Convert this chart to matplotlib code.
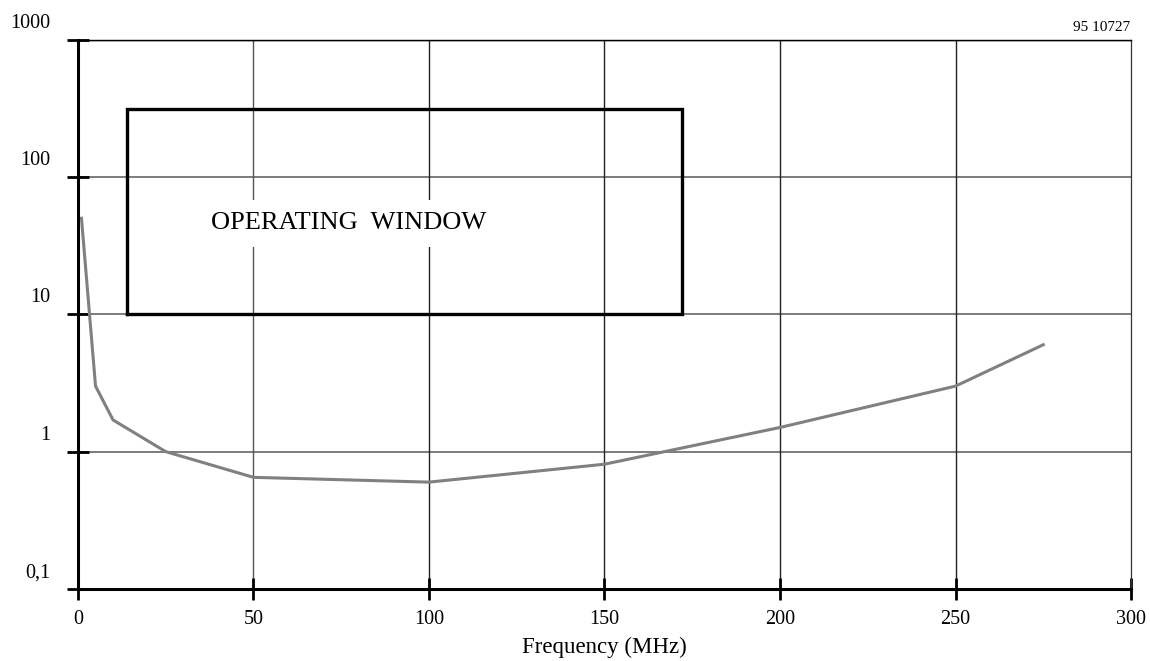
import numpy as np
import matplotlib
matplotlib.use('Agg')
import matplotlib.pyplot as plt
import matplotlib.transforms as mtransforms

plt.rcParams['font.family'] = ['Liberation Serif', 'DejaVu Serif']

# curve
freq = [1, 5, 10, 25, 50, 100, 150, 200, 250, 275]
value = [50, 3.0, 1.7, 1.0, 0.65, 0.60, 0.81, 1.5, 3.0, 6.0]

# operating window
win_f = [14, 172]
win_v = [10, 310]

xticks = [0, 50, 100, 150, 200, 250, 300]
yticks = [0.1, 1, 10, 100, 1000]
ylabels = ['0,1', '1', '10', '100', '1000']

fig = plt.figure(figsize=(11.5, 6.61), dpi=100)
ax = fig.add_axes([0.0678, 0.1089, 0.9157, 0.8313])

ax.set_yscale('log')
ax.set_xlim(0, 300)
ax.set_ylim(0.1, 1000)
ax.set_xticks(xticks)
ax.set_xticklabels([str(t) for t in xticks])
ax.set_yticks(yticks)
ax.set_yticklabels(ylabels)
ax.yaxis.set_minor_locator(matplotlib.ticker.NullLocator())

ax.tick_params(axis='both', direction='inout', length=16, width=2, labelsize=14.5, colors='black')
ax.tick_params(axis='x', pad=7)
ax.tick_params(axis='y', pad=12)

# y labels sit above their tick
off = mtransforms.ScaledTranslation(0, 5 / 72, fig.dpi_scale_trans)
for lab in ax.get_yticklabels():
    lab.set_verticalalignment('bottom')
    lab.set_transform(lab.get_transform() + off)

# grid
for v in yticks[1:-1]:
    ax.axhline(v, color='#666666', lw=1.2, zorder=1)
for f in xticks[1:-1]:
    ax.axvline(f, color='#555555' if f == 50 else '#222222', lw=1.0, zorder=1)
ax.axhline(1000, color='black', lw=1.0, zorder=1)

ax.spines['left'].set_linewidth(2.2)
ax.spines['bottom'].set_linewidth(2.2)
ax.spines['top'].set_linewidth(1.0)
ax.spines['right'].set_linewidth(0.9)
ax.spines['right'].set_color('#333333')

ax.plot(freq, value, color='#808080', lw=2.2, zorder=3)

# window box
ax.plot([win_f[0], win_f[1], win_f[1], win_f[0], win_f[0]],
        [win_v[0], win_v[0], win_v[1], win_v[1], win_v[0]],
        color='black', lw=2.4, solid_joinstyle='miter', zorder=4)
ax.text(77, 46, 'OPERATING  WINDOW', fontsize=19, ha='center', va='center', zorder=5,
        bbox=dict(facecolor='white', edgecolor='none', pad=9))

ax.set_xlabel('Frequency (MHz)', fontsize=16.5, labelpad=6)
fig.text(0.9826, 0.958, '95 10727', fontsize=11, ha='right', va='center')

fig.savefig('out.png', dpi=100)
